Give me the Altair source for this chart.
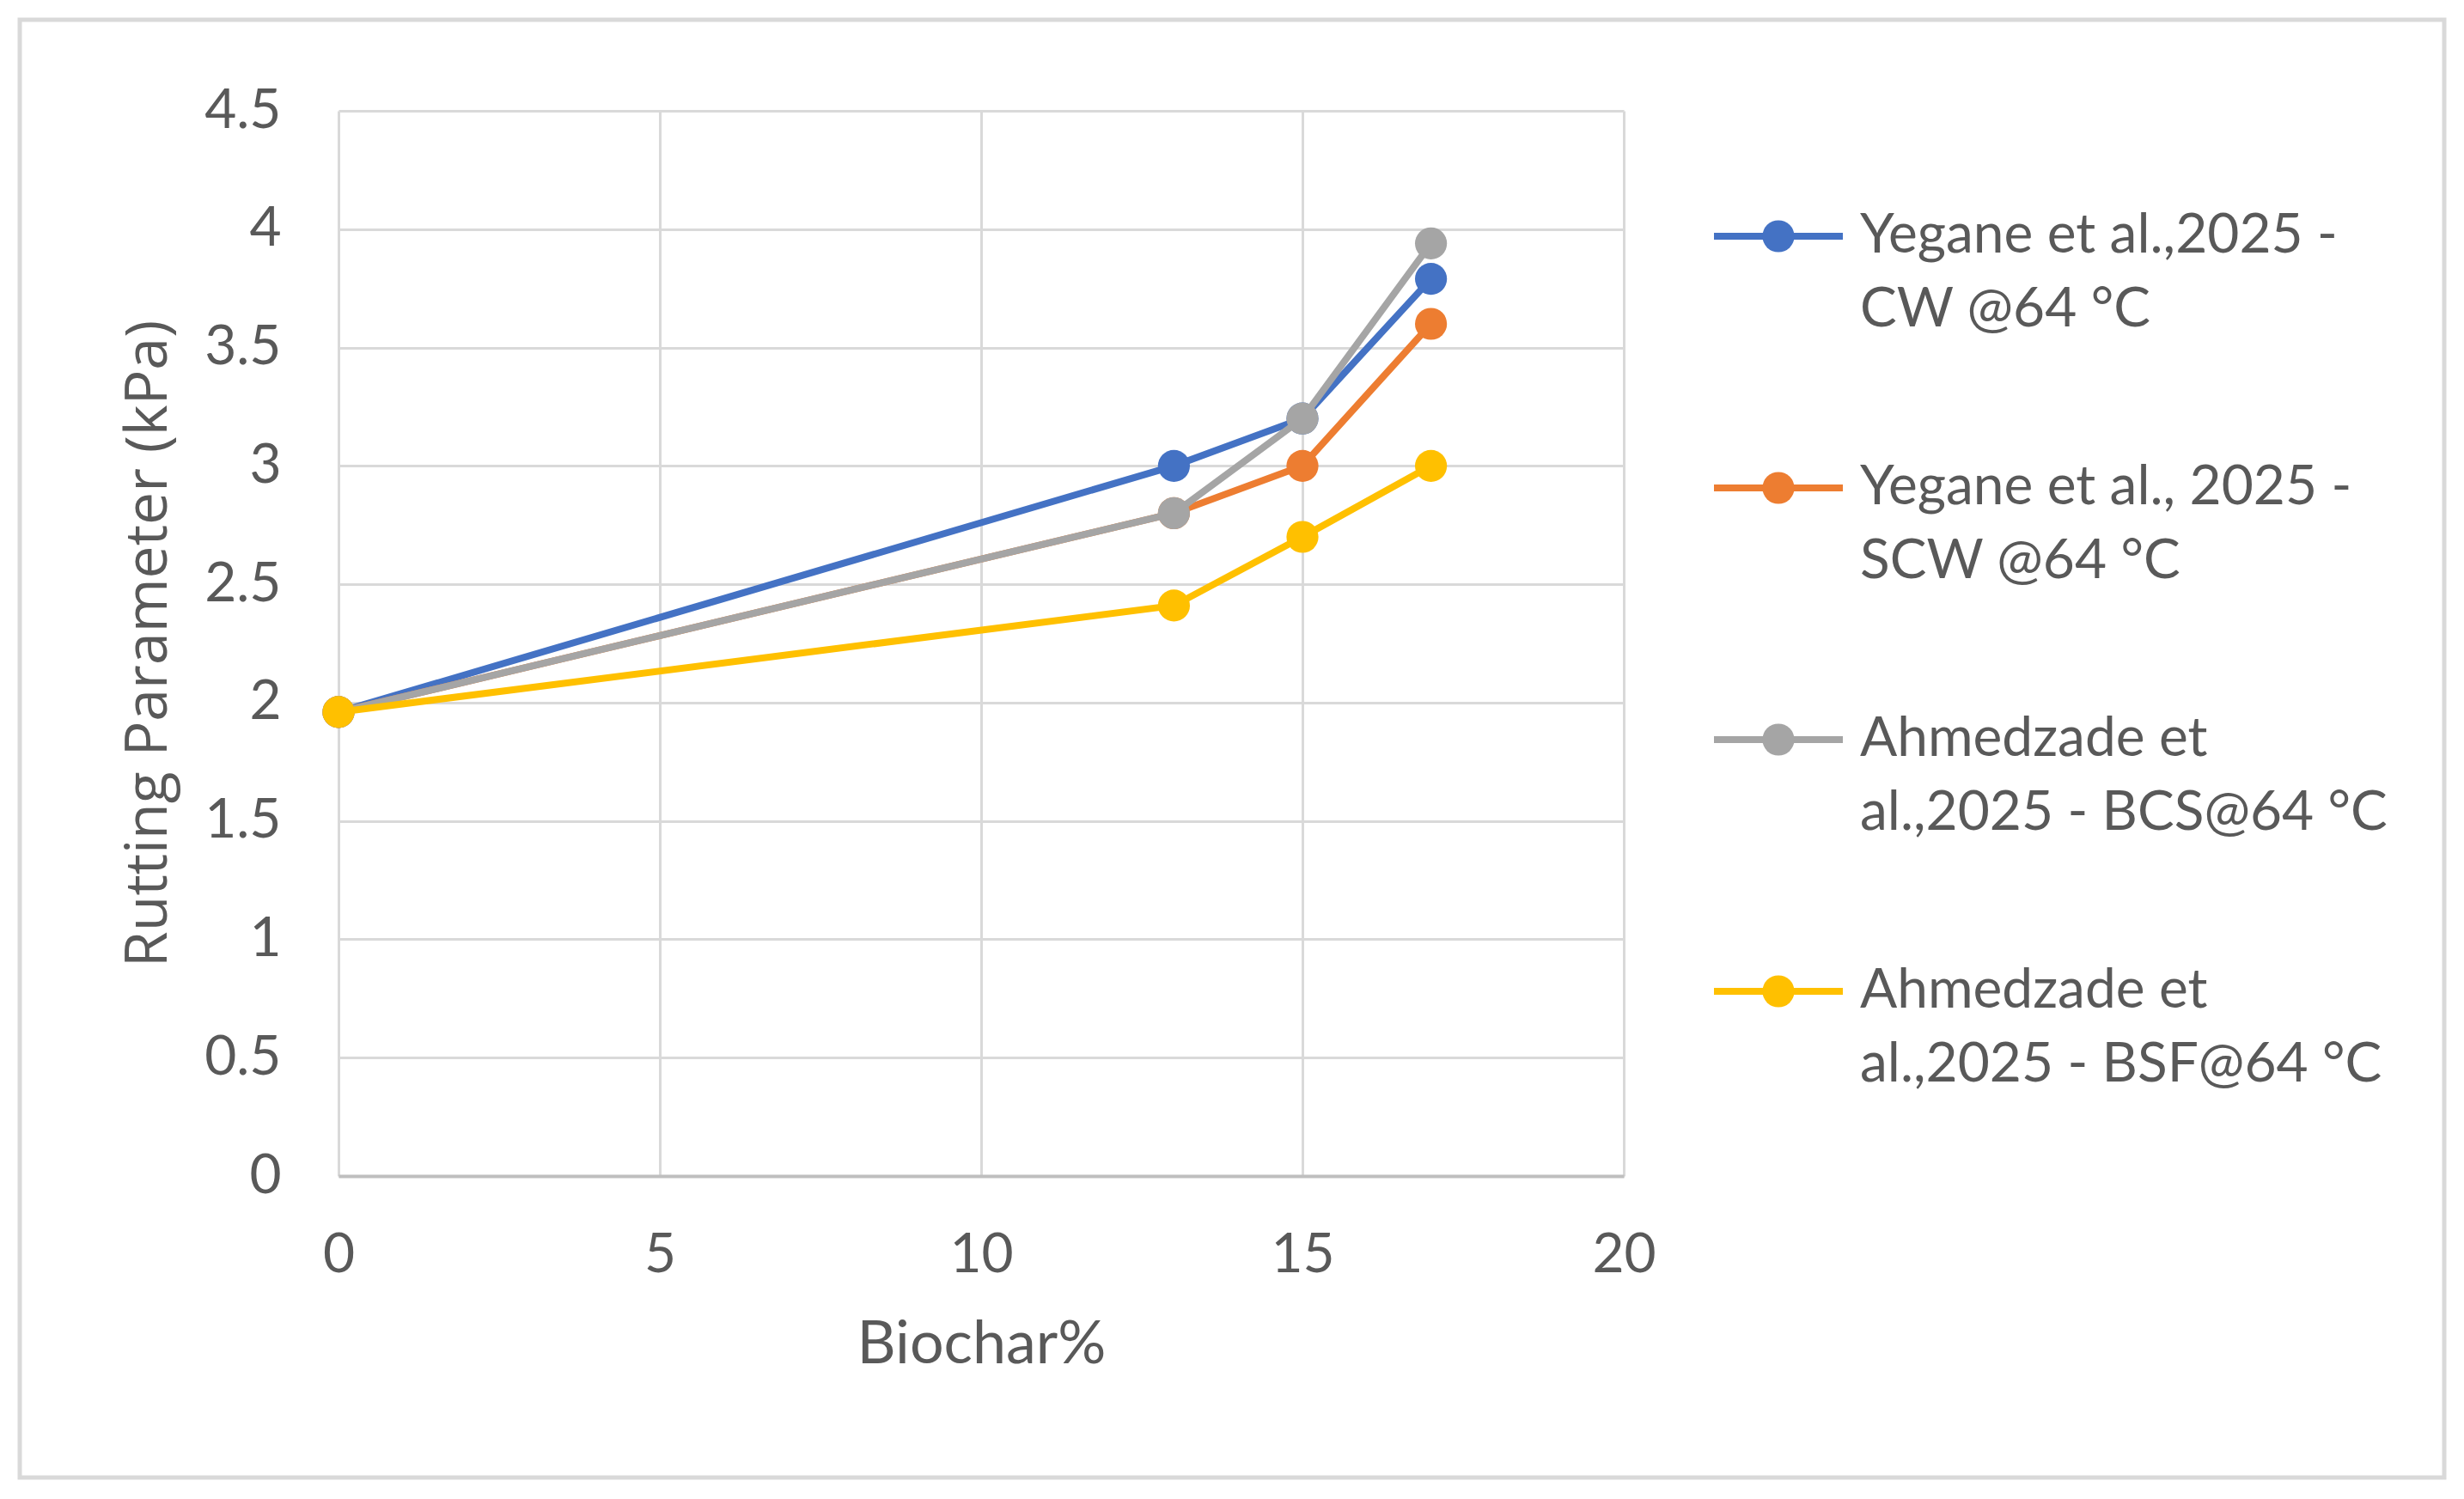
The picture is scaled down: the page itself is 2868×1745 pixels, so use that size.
import altair as alt
import pandas as pd

# ---- data ----
biochar = [0, 13, 15, 17]
series_names = [
    "Yegane et al.,2025 - CW @64 °C",
    "Yegane et al., 2025 - SCW @64 °C",
    "Ahmedzade et al.,2025 - BCS@64 °C",
    "Ahmedzade et al.,2025 - BSF@64 °C",
]
label_line1 = ["Yegane et al.,2025 -", "Yegane et al., 2025 -", "Ahmedzade et", "Ahmedzade et"]
label_line2 = ["CW @64 °C", "SCW @64 °C", "al.,2025 - BCS@64 °C", "al.,2025 - BSF@64 °C"]
cw = [1.96, 3.0, 3.2, 3.79]
scw = [1.96, 2.8, 3.0, 3.6]
bcs = [1.96, 2.8, 3.2, 3.94]
bsf = [1.96, 2.41, 2.7, 3.0]
colors = ["#4472C4", "#ED7D31", "#A5A5A5", "#FFC000"]
x_ticks = [0, 5, 10, 15, 20]
y_ticks = [0, 0.5, 1, 1.5, 2, 2.5, 3, 3.5, 4, 4.5]

values = [cw, scw, bcs, bsf]
rows = []
for name, vals in zip(series_names, values):
    for xv, yv in zip(biochar, vals):
        rows.append({"series": name, "biochar": xv, "value": yv})
df = pd.DataFrame(rows)

legend_df = pd.DataFrame({"series": series_names, "l1": label_line1, "l2": label_line2})

TEXT = "#595959"
GRID = "#d9d9d9"
FONT = "Lato"

color_scale = alt.Scale(domain=series_names, range=colors)

x_enc = alt.X(
    "biochar:Q",
    scale=alt.Scale(domain=[0, 20], nice=False),
    axis=alt.Axis(
        values=x_ticks, format="d", title="Biochar%", grid=True, gridColor=GRID, gridWidth=3,
        domain=True, domainColor="#bfbfbf", domainWidth=4, ticks=False, tickSize=0,
        labelFlush=False,
        labelFont=FONT, labelFontSize=64, labelColor=TEXT, labelPadding=60,
        titleFont=FONT, titleFontSize=70, titleColor=TEXT, titleFontWeight="normal", titlePadding=38,
    ),
)
y_enc = alt.Y(
    "value:Q",
    scale=alt.Scale(domain=[0, 4.5], nice=False),
    axis=alt.Axis(
        values=y_ticks, format="~g", title="Rutting Parameter (kPa)", grid=True, gridColor=GRID,
        gridWidth=3, domain=False, ticks=False, tickSize=0, labelFlush=False,
        labelFont=FONT, labelFontSize=64, labelColor=TEXT, labelPadding=67,
        titleFont="Open Sans", titleFontSize=68, titleColor=TEXT, titleFontWeight="normal", titlePadding=30,
    ),
)
c_enc = alt.Color("series:N", scale=color_scale, legend=None)

layers = []
for name in series_names:
    base = alt.Chart(df).transform_filter(alt.datum.series == name)
    layers.append(base.mark_line(strokeWidth=8).encode(x=x_enc, y=y_enc, color=c_enc))
    layers.append(base.mark_point(filled=True, size=1385, opacity=1).encode(x=x_enc, y=y_enc, color=c_enc))

main = alt.layer(*layers).properties(width=1496, height=1240)

# ---- legend panel ----
y_leg = alt.Y(
    "series:N",
    scale=alt.Scale(type="point", domain=series_names, range=[146, 1025], padding=0),
    axis=None,
)
lbase = alt.Chart(legend_df)
leg_rule = lbase.mark_rule(strokeWidth=8).encode(
    x=alt.value(0), x2=alt.value(150), y=y_leg, color=c_enc
)
leg_pt = lbase.mark_point(filled=True, size=1385, opacity=1).encode(
    x=alt.value(75), y=y_leg, color=c_enc
)
leg_txt = lbase.transform_calculate(lines="[datum.l1, datum.l2]").mark_text(
    align="left", baseline="middle", font=FONT, fontSize=64, color=TEXT, lineHeight=86
).encode(x=alt.value(170), y=y_leg, text="lines:N")
frame = lbase.mark_rect(fillOpacity=0, stroke=GRID, strokeWidth=5).encode(
    x=alt.value(-1972), x2=alt.value(850), y=alt.value(-106), y2=alt.value(1591)
).transform_filter(alt.datum.series == series_names[0])

legend_panel = alt.layer(frame, leg_rule, leg_pt, leg_txt).properties(width=780, height=1240)

chart = alt.hconcat(main, legend_panel, spacing=105, bounds="flush").properties(
    padding={"left": 12, "top": 12, "right": 12, "bottom": 12},
    background="white",
).configure_view(stroke="transparent")

chart.save("out.html", embed_options={"renderer": "svg", "actions": False})
